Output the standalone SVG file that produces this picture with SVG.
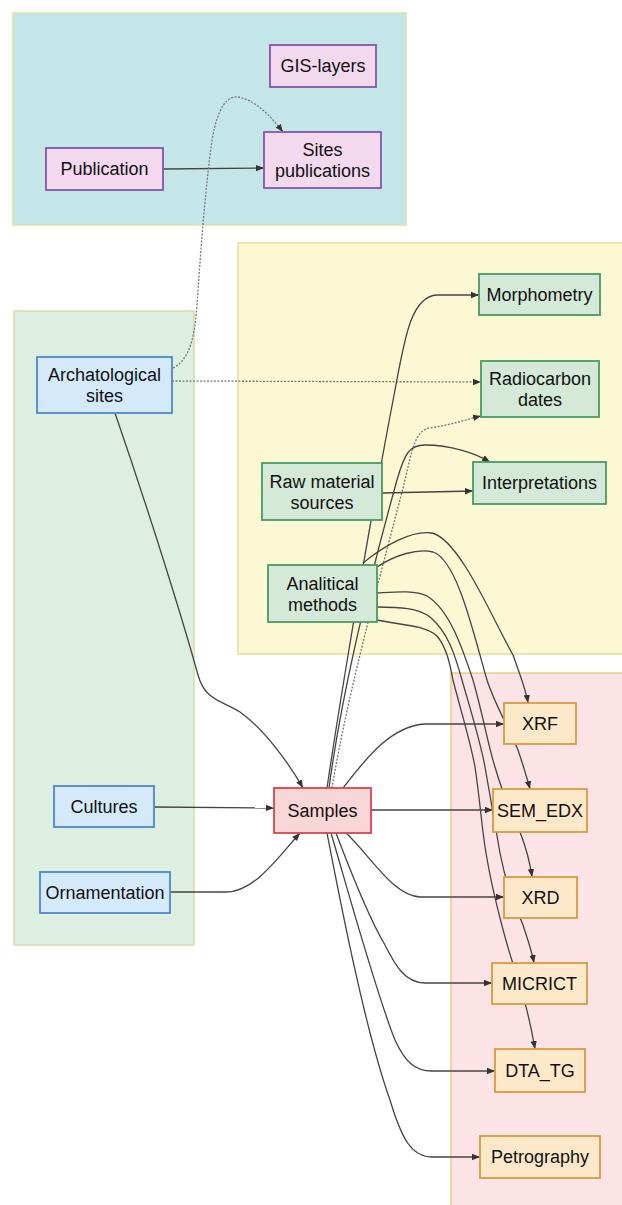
<svg xmlns="http://www.w3.org/2000/svg" width="622" height="1205" viewBox="0 0 622 1205">
<style>
.cont{stroke-width:1.5}
.n rect{stroke-width:1.8}
.n text{font-family:"Liberation Sans",Arial,sans-serif;font-size:18px;fill:#111;text-anchor:middle}
.pu rect{fill:#f2d9ee;stroke:#8456a6}
.bl rect{fill:#d4eafa;stroke:#4f86cf}
.gr rect{fill:#d4e9d7;stroke:#4a9a62}
.rd rect{fill:#f9d6d8;stroke:#d9444a}
.or rect{fill:#fde9c9;stroke:#d99a42}
.e path{fill:none;stroke:#444;stroke-width:1.3;marker-end:url(#ar)}
.e path.d{stroke:#777;stroke-dasharray:2 1.5}
</style>
<defs>
<marker id="ar" viewBox="0 0 10 10" refX="10" refY="5" markerWidth="8" markerHeight="8" orient="auto" markerUnits="userSpaceOnUse">
<path d="M0,1 L10,5 L0,9 z" fill="#333"/>
</marker>
</defs>
<rect width="622" height="1205" fill="#ffffff"/>
<g id="containers">
<rect class="cont" x="13" y="13" width="393" height="212" fill="#c5e6e8" stroke="#d8e3a6"/>
<rect class="cont" x="14" y="311" width="180" height="634" fill="#ddefe1" stroke="#d6dca6"/>
<rect class="cont" x="238" y="243" width="390" height="411" fill="#fcf8d3" stroke="#e8dd9e"/>
<rect class="cont" x="451" y="673" width="177" height="540" fill="#fce3e6" stroke="#e2d284"/>
</g>
<g id="connectors" class="e">
<path d="M163,169 L264,168"/>
<path class="d" d="M173,368 C190,360 195,335 197,305 C200,260 205,190 212,140 C218,105 228,96 238,97 C255,100 270,115 283,132"/>
<path class="d" d="M172,381 L481,382"/>
<path d="M115,413 C145,500 180,610 198,675 C205,700 220,700 240,712 C265,730 290,765 303,788"/>
<path d="M154,807 L274,808"/>
<path d="M170,892 L226,892 C255,892 280,855 300,833"/>
<path d="M343,788 C365,760 390,726 425,724 L504,724"/>
<path d="M371,810 L493,810"/>
<path d="M346,833 C370,855 392,895 420,897 L504,897"/>
<path d="M336,833 C350,870 370,920 385,945 C395,965 405,983 425,983 L492,983"/>
<path d="M331,833 C345,880 375,990 395,1040 C405,1062 415,1071 432,1071 L495,1071"/>
<path d="M327,833 C340,900 365,1030 390,1100 C402,1140 412,1157 432,1157 L480,1157"/>
<path d="M327,788 C340,700 370,520 395,390 C405,335 412,296 437,295 L479,295"/>
<path d="M329,788 C342,690 372,570 397,480 C405,452 410,445 425,445 C450,445 475,453 490,462"/>
<path class="d" d="M332,788 C350,680 385,560 405,480 C412,450 415,430 430,428 C450,425 465,420 481,416"/>
<path d="M382,493 L473,491"/>
<path d="M363,563 C385,545 412,530 432,533 C460,540 493,620 513,655 C520,675 526,690 528,703"/>
<path d="M377,567 C395,555 418,548 433,552 C458,560 475,640 487,680 C495,705 510,730 518,750 C523,765 527,778 530,789"/>
<path d="M377,593 C395,592 415,590 427,596 C450,610 463,650 473,680 C483,715 488,745 495,767 C503,795 512,815 520,832 C525,845 530,862 532,877"/>
<path d="M377,607 C400,607 418,608 430,617 C448,632 455,655 462,680 C472,715 480,740 485,767 L500,853 C506,885 515,905 523,925 C528,940 532,952 534,963"/>
<path d="M377,620 C400,625 425,625 437,636 C447,648 450,665 453,680 C462,715 470,740 475,767 C480,800 482,830 486,853 C492,890 505,940 515,970 C522,990 530,1020 535,1049"/>
</g>
<g id="n-gis" class="n pu"><rect x="270" y="45" width="106" height="42"/><text x="323" y="72">GIS-layers</text></g>
<g id="n-sitespub" class="n pu"><rect x="264" y="132" width="117" height="56"/><text x="322.5" y="156">Sites</text><text x="322.5" y="177">publications</text></g>
<g id="n-pub" class="n pu"><rect x="46" y="148" width="117" height="42"/><text x="104.5" y="175">Publication</text></g>
<g id="n-arch" class="n bl"><rect x="37" y="357" width="135" height="56"/><text x="104.5" y="381">Archatological</text><text x="104.5" y="402">sites</text></g>
<g id="n-morph" class="n gr"><rect x="479" y="274" width="121" height="41"/><text x="539.5" y="300.5">Morphometry</text></g>
<g id="n-radio" class="n gr"><rect x="481" y="361" width="118" height="56"/><text x="540" y="385">Radiocarbon</text><text x="540" y="406">dates</text></g>
<g id="n-raw" class="n gr"><rect x="262" y="463" width="120" height="57"/><text x="322" y="487.5">Raw material</text><text x="322" y="508.5">sources</text></g>
<g id="n-interp" class="n gr"><rect x="473" y="462" width="133" height="42"/><text x="539.5" y="489">Interpretations</text></g>
<g id="n-anal" class="n gr"><rect x="268" y="565" width="109" height="57"/><text x="322.5" y="589.5">Analitical</text><text x="322.5" y="610.5">methods</text></g>
<g id="n-xrf" class="n or"><rect x="504" y="703" width="72" height="41"/><text x="540" y="729.5">XRF</text></g>
<g id="n-samples" class="n rd"><rect x="274" y="788" width="97" height="45"/><text x="322.5" y="817">Samples</text></g>
<g id="n-sem" class="n or"><rect x="493" y="789" width="94" height="43"/><text x="540" y="817">SEM_EDX</text></g>
<g id="n-cultures" class="n bl"><rect x="54" y="786" width="100" height="41"/><text x="104" y="812.5">Cultures</text></g>
<g id="n-orn" class="n bl"><rect x="40" y="872" width="130" height="41"/><text x="105" y="898.5">Ornamentation</text></g>
<g id="n-xrd" class="n or"><rect x="504" y="877" width="73" height="41"/><text x="540.5" y="903.5">XRD</text></g>
<g id="n-micrict" class="n or"><rect x="492" y="963" width="95" height="41"/><text x="539.5" y="989.5">MICRICT</text></g>
<g id="n-dta" class="n or"><rect x="495" y="1049" width="90" height="43"/><text x="540" y="1077">DTA_TG</text></g>
<g id="n-petro" class="n or"><rect x="480" y="1136" width="120" height="42"/><text x="540" y="1163">Petrography</text></g>
</svg>
